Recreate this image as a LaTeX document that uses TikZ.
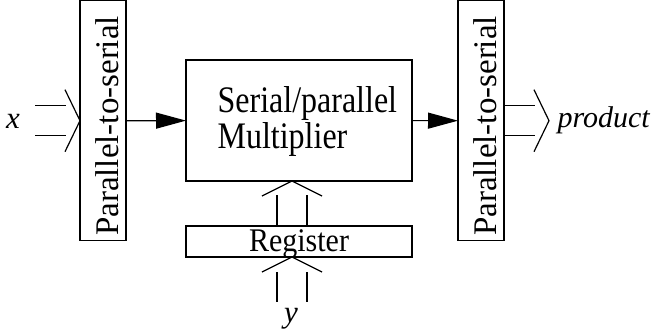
\documentclass[tikz,border=0pt]{standalone}
\usepackage{fontspec}
\setmainfont{Liberation Serif}
\usetikzlibrary{arrows.meta,calc}
\begin{document}
\begin{tikzpicture}[x=1pt,y=-1pt, line width=1.2pt,
  box/.style={draw, inner sep=0pt, outer sep=0pt},
  vtxt/.style={font=\fontsize{33}{40}\selectfont, inner sep=0pt},
  txt/.style={font=\fontsize{32}{36}\selectfont, inner sep=0pt},
  rtxt/.style={font=\fontsize{30}{36}\selectfont, inner sep=0pt},
  itxt/.style={font=\fontsize{31}{36}\selectfont\itshape, inner sep=0pt},
  flow/.style={-{Triangle[length=30pt,width=16pt]}}]
\useasboundingbox (0,0) rectangle (656,333);
% boxes
\node[box, minimum width=46pt, minimum height=240pt] (p2sL) at (103,120.7) {};
\node[box, minimum width=46pt, minimum height=240pt] (p2sR) at (481,120.7) {};
\node[box, minimum width=226pt, minimum height=121pt] (mult) at (299,120.5) {};
\node[box, minimum width=226pt, minimum height=31pt] (reg) at (299,241.5) {};
% texts
\node[vtxt, rotate=90, anchor=base] (tL) at (118,126) {Parallel-to-serial};
\node[vtxt, rotate=90, anchor=base] (tR) at (496,126) {Parallel-to-serial};
\node[txt, anchor=base west] (m1) at (217,112) {\scalebox{1}[1.17]{Serial/parallel}};
\node[txt, anchor=base west] (m2) at (217,148) {\scalebox{1}[1.17]{Multiplier}};
\node[rtxt, anchor=base] (rt) at (299,251.5) {\scalebox{1}[1.1]{Register}};
\node[itxt, anchor=base] (xl) at (13,128) {x};
\node[itxt, anchor=base] (yl) at (291,322) {y};
\node[itxt, font=\fontsize{30}{36}\selectfont\itshape, anchor=base west] (pl) at (557,127) {product};
% main flow
\draw[flow] (p2sL) -- (mult);
\draw[flow] (mult) -- (p2sR);
% input bus x
\coordinate (xa) at ($(p2sL.west)+(-45,-15)$);
\coordinate (xb) at ($(p2sL.west)+(-45,15)$);
\draw (xa) -- ++(31,0);
\draw (xb) -- ++(31,0);
\draw ($(p2sL.west)+(-15,-31)$) -- (p2sL.west) -- ($(p2sL.west)+(-15,31)$);
% output bus product
\coordinate (po) at ($(p2sR.east)+(45,0)$);
\draw ($(p2sR.east)+(0,-15)$) -- ++(31,0);
\draw ($(p2sR.east)+(0,15)$) -- ++(31,0);
\draw ($(po)+(-15,-31)$) -- (po) -- ($(po)+(-15,31)$);
% bus register -> multiplier
\coordinate (ma) at ($(mult.south)+(-7,0)$);
\draw ($(ma)+(-30,15)$) -- (ma) -- ($(ma)+(30,15)$);
\draw ($(reg.north)+(-22,0)$) -- ++(0,-31);
\draw ($(reg.north)+(8,0)$) -- ++(0,-31);
% bus y -> register
\coordinate (ra) at ($(reg.south)+(-7,0)$);
\draw ($(ra)+(-30,15)$) -- (ra) -- ($(ra)+(30,15)$);
\draw ($(reg.south)+(-22,15)$) -- ++(0,30);
\draw ($(reg.south)+(8,15)$) -- ++(0,30);
\end{tikzpicture}
\end{document}
